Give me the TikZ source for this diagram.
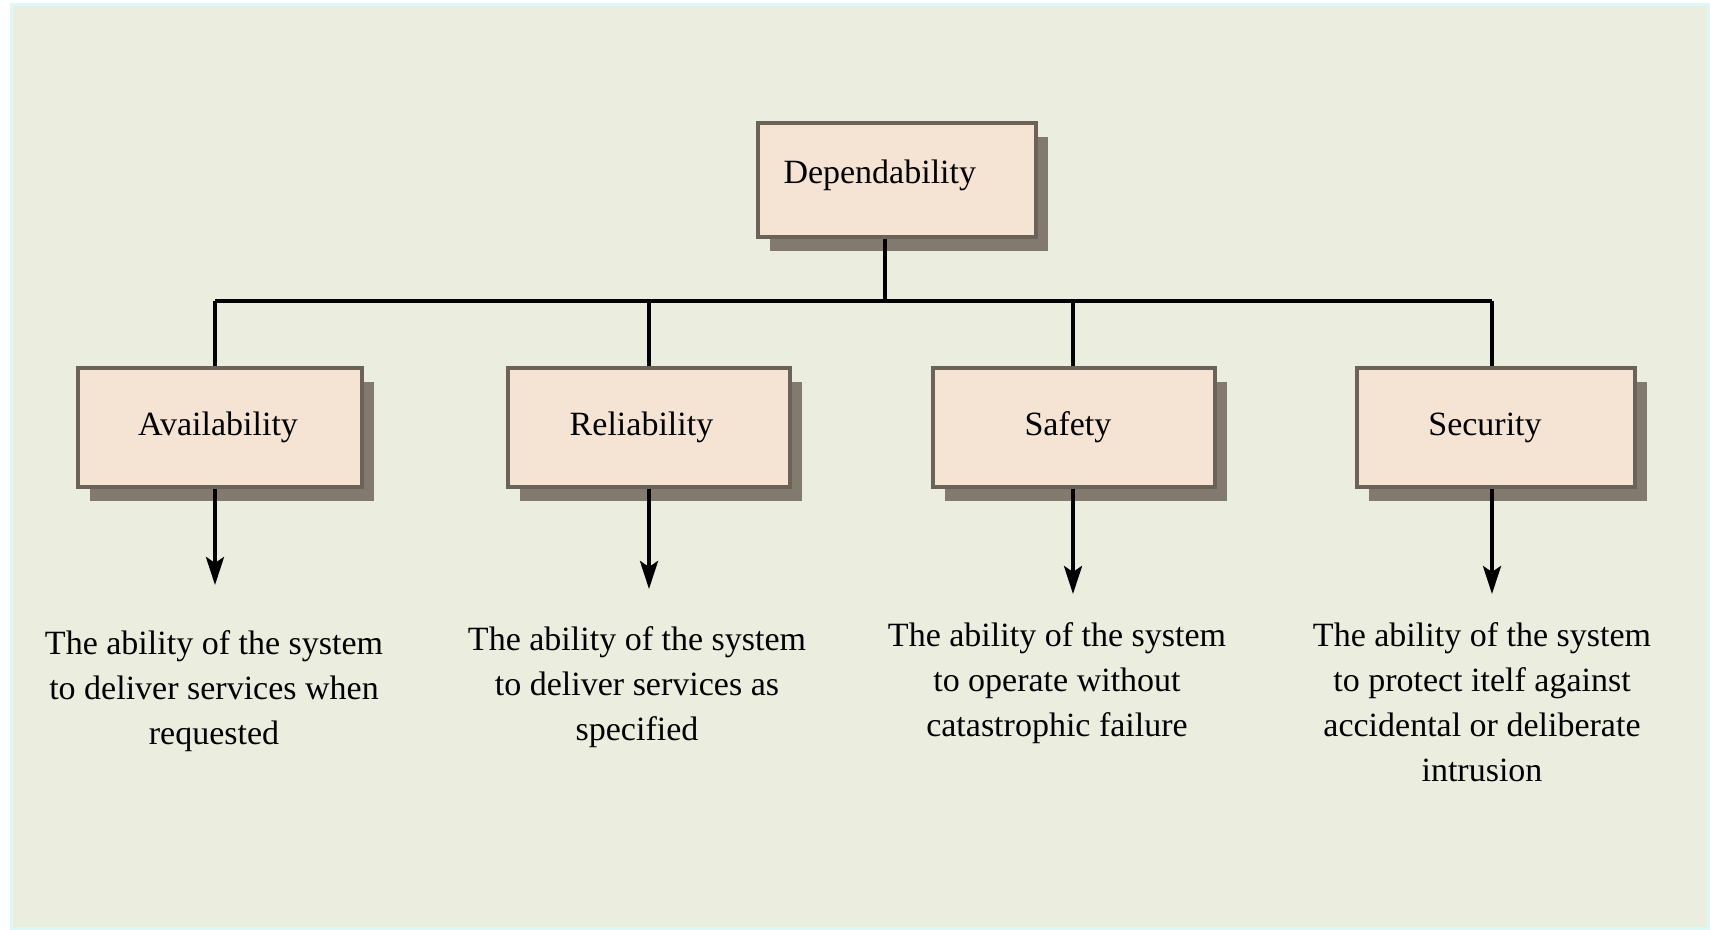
\documentclass[tikz,border=0pt]{standalone}
\usepackage{fontspec}
\setmainfont{Liberation Serif}
\usetikzlibrary{arrows.meta,shadows}
\definecolor{bgc}{HTML}{EBEEDF}
\definecolor{edgec}{HTML}{DDF8F8}
\definecolor{boxfill}{HTML}{F5E4D3}
\definecolor{boxline}{HTML}{6B6358}
\definecolor{shadowc}{HTML}{827A6E}
\tikzset{
  box/.style={draw=boxline, line width=2pt, fill=boxfill, rectangle,
    minimum width=141pt, minimum height=59.5pt, inner sep=0pt,
    font=\fontsize{17}{22.5}\selectfont,
    drop shadow={fill=shadowc, opacity=1, shadow xshift=6pt, shadow yshift=-7pt}},
  desc/.style={align=center, anchor=north, inner sep=0pt,
    font=\fontsize{17}{22.5}\selectfont},
  wire/.style={line width=2pt, black},
  arr/.style={line width=2pt, black, -{Stealth[length=14pt,width=9pt,inset=3pt]}}
}
\begin{document}
\begin{tikzpicture}[x=0.5pt,y=-0.5pt]
\useasboundingbox (0,0) rectangle (1710,930);
\fill[white] (0,0) rectangle (1710,930);
\draw[edgec, line width=1.5pt, fill=bgc] (11,5) rectangle (1708,928);

% boxes
\node[box, minimum width=139pt, minimum height=57pt, text width=113pt, align=left, text depth=8.5pt] (dep) at (896.5,180) {Dependability};
\node[box, minimum width=142pt] (av) at (220,427.5) {Availability\hspace*{2pt}};
\node[box] (re) at (649,427.5) {Reliability\hspace*{7.5pt}};
\node[box] (sa) at (1073.5,427.5) {Safety\hspace*{5.5pt}};
\node[box, minimum width=139pt] (se) at (1496,427.5) {Security\hspace*{11pt}};

% bus
\coordinate (j0) at (885,301);
\coordinate (jA) at (215,301);
\coordinate (jB) at (649,301);
\coordinate (jC) at (1073,301);
\coordinate (jD) at (1492,301);
\draw[wire] (j0 |- dep.south) -- (j0);
\draw[wire] (jA) -- (jD);
\draw[wire] (jA) -- (jA |- av.north);
\draw[wire] (jB) -- (jB |- re.north);
\draw[wire] (jC) -- (jC |- sa.north);
\draw[wire] (jD) -- (jD |- se.north);

% arrows
\coordinate (tA) at (215,585);
\coordinate (tB) at (649,589);
\coordinate (tC) at (1073,594);
\coordinate (tD) at (1492,594);
\draw[arr] (tA |- av.south) -- (tA);
\draw[arr] (tB |- re.south) -- (tB);
\draw[arr] (tC |- sa.south) -- (tC);
\draw[arr] (tD |- se.south) -- (tD);

% descriptions
\node[desc] (dA) at (214,630) {The ability of the system\\to deliver services when\\requested};
\node[desc] (dB) at (637,626) {The ability of the system\\to deliver services as\\specified};
\node[desc] (dC) at (1057,622) {The ability of the system\\to operate without\\catastrophic failure};
\node[desc] (dD) at (1482,622) {The ability of the system\\to protect itelf against\\accidental or deliberate\\intrusion};
\end{tikzpicture}
\end{document}
